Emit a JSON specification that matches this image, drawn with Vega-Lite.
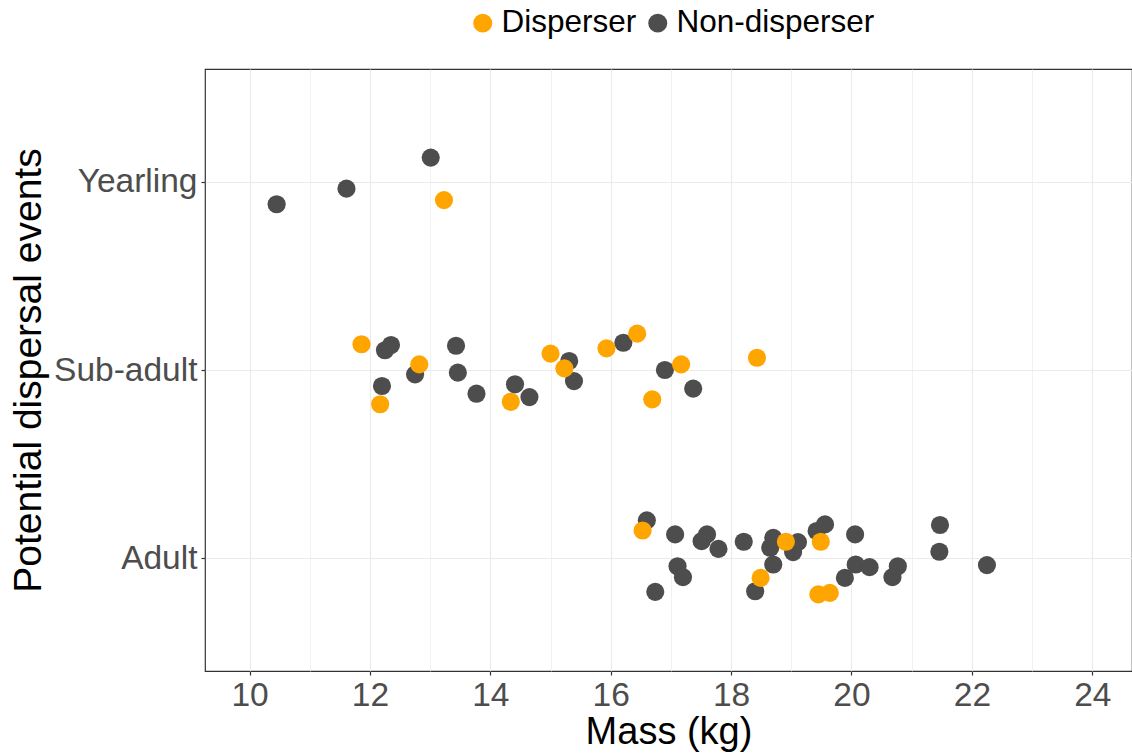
{
  "$schema": "https://vega.github.io/schema/vega-lite/v6.json",
  "width": 927,
  "height": 602,
  "autosize": {"type": "none"},
  "padding": {"left": 205, "top": 69, "right": 0, "bottom": 82},
  "background": "white",
  "config": {
    "font": "Liberation Sans",
    "view": {"stroke": "#333333", "strokeWidth": 1.2}
  },
  "data": {
    "values": [
      {"stage": "Yearling", "mass": 10.45, "pos": 2.881, "status": "Non-disperser"},
      {"stage": "Yearling", "mass": 11.61, "pos": 2.964, "status": "Non-disperser"},
      {"stage": "Yearling", "mass": 13.01, "pos": 3.129, "status": "Non-disperser"},
      {"stage": "Sub-adult", "mass": 12.25, "pos": 2.105, "status": "Non-disperser"},
      {"stage": "Sub-adult", "mass": 12.35, "pos": 2.133, "status": "Non-disperser"},
      {"stage": "Sub-adult", "mass": 12.20, "pos": 1.915, "status": "Non-disperser"},
      {"stage": "Sub-adult", "mass": 12.75, "pos": 1.977, "status": "Non-disperser"},
      {"stage": "Sub-adult", "mass": 13.43, "pos": 2.129, "status": "Non-disperser"},
      {"stage": "Sub-adult", "mass": 13.46, "pos": 1.986, "status": "Non-disperser"},
      {"stage": "Sub-adult", "mass": 13.77, "pos": 1.874, "status": "Non-disperser"},
      {"stage": "Sub-adult", "mass": 14.41, "pos": 1.924, "status": "Non-disperser"},
      {"stage": "Sub-adult", "mass": 14.65, "pos": 1.856, "status": "Non-disperser"},
      {"stage": "Sub-adult", "mass": 15.31, "pos": 2.048, "status": "Non-disperser"},
      {"stage": "Sub-adult", "mass": 15.39, "pos": 1.941, "status": "Non-disperser"},
      {"stage": "Sub-adult", "mass": 16.21, "pos": 2.145, "status": "Non-disperser"},
      {"stage": "Sub-adult", "mass": 16.90, "pos": 2.000, "status": "Non-disperser"},
      {"stage": "Sub-adult", "mass": 17.37, "pos": 1.901, "status": "Non-disperser"},
      {"stage": "Adult", "mass": 16.60, "pos": 1.201, "status": "Non-disperser"},
      {"stage": "Adult", "mass": 17.07, "pos": 1.126, "status": "Non-disperser"},
      {"stage": "Adult", "mass": 17.11, "pos": 0.957, "status": "Non-disperser"},
      {"stage": "Adult", "mass": 17.20, "pos": 0.899, "status": "Non-disperser"},
      {"stage": "Adult", "mass": 16.74, "pos": 0.821, "status": "Non-disperser"},
      {"stage": "Adult", "mass": 17.60, "pos": 1.126, "status": "Non-disperser"},
      {"stage": "Adult", "mass": 17.51, "pos": 1.090, "status": "Non-disperser"},
      {"stage": "Adult", "mass": 17.79, "pos": 1.049, "status": "Non-disperser"},
      {"stage": "Adult", "mass": 18.21, "pos": 1.087, "status": "Non-disperser"},
      {"stage": "Adult", "mass": 18.70, "pos": 1.108, "status": "Non-disperser"},
      {"stage": "Adult", "mass": 18.65, "pos": 1.055, "status": "Non-disperser"},
      {"stage": "Adult", "mass": 18.70, "pos": 0.966, "status": "Non-disperser"},
      {"stage": "Adult", "mass": 18.40, "pos": 0.824, "status": "Non-disperser"},
      {"stage": "Adult", "mass": 19.11, "pos": 1.085, "status": "Non-disperser"},
      {"stage": "Adult", "mass": 19.03, "pos": 1.032, "status": "Non-disperser"},
      {"stage": "Adult", "mass": 19.42, "pos": 1.144, "status": "Non-disperser"},
      {"stage": "Adult", "mass": 19.56, "pos": 1.179, "status": "Non-disperser"},
      {"stage": "Adult", "mass": 19.89, "pos": 0.895, "status": "Non-disperser"},
      {"stage": "Adult", "mass": 20.06, "pos": 1.126, "status": "Non-disperser"},
      {"stage": "Adult", "mass": 20.07, "pos": 0.966, "status": "Non-disperser"},
      {"stage": "Adult", "mass": 20.30, "pos": 0.952, "status": "Non-disperser"},
      {"stage": "Adult", "mass": 20.77, "pos": 0.957, "status": "Non-disperser"},
      {"stage": "Adult", "mass": 20.68, "pos": 0.899, "status": "Non-disperser"},
      {"stage": "Adult", "mass": 21.47, "pos": 1.176, "status": "Non-disperser"},
      {"stage": "Adult", "mass": 21.46, "pos": 1.034, "status": "Non-disperser"},
      {"stage": "Adult", "mass": 22.25, "pos": 0.963, "status": "Non-disperser"},
      {"stage": "Yearling", "mass": 13.23, "pos": 2.903, "status": "Disperser"},
      {"stage": "Sub-adult", "mass": 11.86, "pos": 2.137, "status": "Disperser"},
      {"stage": "Sub-adult", "mass": 12.17, "pos": 1.818, "status": "Disperser"},
      {"stage": "Sub-adult", "mass": 12.82, "pos": 2.030, "status": "Disperser"},
      {"stage": "Sub-adult", "mass": 14.34, "pos": 1.831, "status": "Disperser"},
      {"stage": "Sub-adult", "mass": 15.00, "pos": 2.087, "status": "Disperser"},
      {"stage": "Sub-adult", "mass": 15.23, "pos": 2.009, "status": "Disperser"},
      {"stage": "Sub-adult", "mass": 15.93, "pos": 2.115, "status": "Disperser"},
      {"stage": "Sub-adult", "mass": 16.44, "pos": 2.193, "status": "Disperser"},
      {"stage": "Sub-adult", "mass": 17.17, "pos": 2.030, "status": "Disperser"},
      {"stage": "Sub-adult", "mass": 16.69, "pos": 1.844, "status": "Disperser"},
      {"stage": "Sub-adult", "mass": 18.43, "pos": 2.065, "status": "Disperser"},
      {"stage": "Adult", "mass": 16.53, "pos": 1.147, "status": "Disperser"},
      {"stage": "Adult", "mass": 18.91, "pos": 1.087, "status": "Disperser"},
      {"stage": "Adult", "mass": 18.49, "pos": 0.895, "status": "Disperser"},
      {"stage": "Adult", "mass": 19.49, "pos": 1.087, "status": "Disperser"},
      {"stage": "Adult", "mass": 19.45, "pos": 0.807, "status": "Disperser"},
      {"stage": "Adult", "mass": 19.64, "pos": 0.815, "status": "Disperser"}
    ]
  },
  "mark": {"type": "circle", "size": 330, "opacity": 1},
  "encoding": {
    "x": {
      "field": "mass",
      "type": "quantitative",
      "scale": {"domain": [9.26, 24.66], "nice": false, "zero": false},
      "axis": {
        "title": "Mass (kg)",
        "values": [10, 11, 12, 13, 14, 15, 16, 17, 18, 19, 20, 21, 22, 23, 24],
        "labelExpr": "datum.value % 2 === 0 ? datum.label : ''",
        "labelFont": "Liberation Sans",
        "labelFontSize": 33.5,
        "labelColor": "#4D4D4D",
        "labelPadding": 4,
        "labelFlush": false,
        "labelOverlap": false,
        "tickColor": "#333333",
        "tickSize": 4,
        "tickWidth": 1.2,
        "tickOpacity": {"condition": {"test": "datum.value % 2 === 0", "value": 1}, "value": 0},
        "domain": false,
        "grid": true,
        "gridColor": "#EBEBEB",
        "gridWidth": {"condition": {"test": "datum.value % 2 === 0", "value": 1.2}, "value": 0.7},
        "titleFont": "Liberation Sans",
        "titleFontSize": 38,
        "titleFontWeight": "normal",
        "titleColor": "#000000",
        "titlePadding": 2
      }
    },
    "y": {
      "field": "pos",
      "type": "quantitative",
      "scale": {"domain": [0.4, 3.6], "nice": false, "zero": false},
      "axis": {
        "title": "Potential dispersal events",
        "values": [1, 2, 3],
        "labelExpr": "datum.value === 1 ? 'Adult' : datum.value === 2 ? 'Sub-adult' : 'Yearling'",
        "labelFont": "Liberation Sans",
        "labelFontSize": 33.5,
        "labelColor": "#4D4D4D",
        "labelPadding": 4,
        "labelFlush": false,
        "labelOverlap": false,
        "tickColor": "#333333",
        "tickSize": 4,
        "tickWidth": 1.2,
        "domain": false,
        "grid": true,
        "gridColor": "#EBEBEB",
        "gridWidth": 1.2,
        "titleFont": "Liberation Sans",
        "titleFontSize": 39,
        "titleFontWeight": "normal",
        "titleColor": "#000000",
        "titlePadding": 5
      }
    },
    "color": {
      "field": "status",
      "type": "nominal",
      "scale": {"domain": ["Disperser", "Non-disperser"], "range": ["#FFA500", "#4D4D4D"]},
      "legend": {
        "title": null,
        "orient": "none",
        "direction": "horizontal",
        "legendX": 262,
        "legendY": -62,
        "symbolType": "circle",
        "symbolSize": 360,
        "symbolStrokeWidth": 0,
        "symbolOpacity": 1,
        "labelFont": "Liberation Sans",
        "labelFontSize": 31.5,
        "labelColor": "#000000",
        "labelOffset": 3,
        "labelLimit": 400,
        "columnPadding": 5
      }
    }
  }
}
